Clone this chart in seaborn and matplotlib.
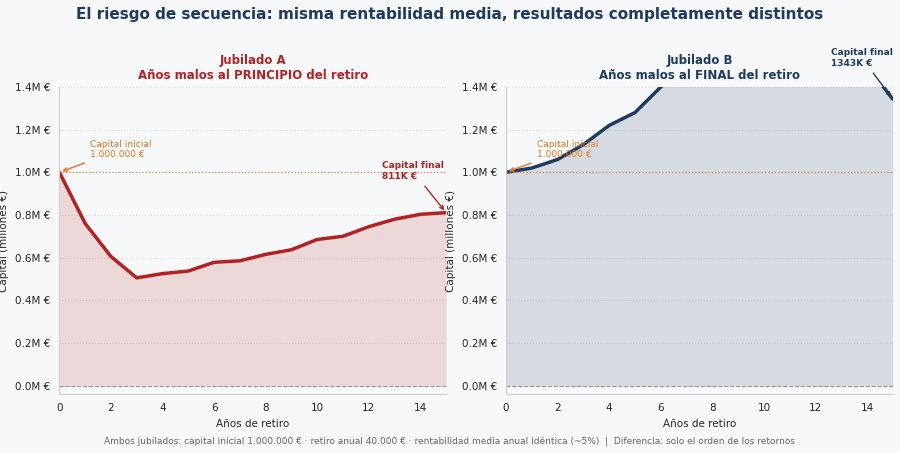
import matplotlib
matplotlib.use("Agg")
import matplotlib.pyplot as plt
import seaborn as sns
import numpy as np
import pandas as pd
from matplotlib.ticker import FuncFormatter

sns.set_style("white")
plt.rcParams['font.family'] = ['DejaVu Sans']

years = list(range(16))
cap_a = [1.0, 0.76, 0.605, 0.505, 0.525, 0.537, 0.578, 0.585, 0.615, 0.637, 0.685, 0.70, 0.745, 0.78, 0.803, 0.811]
cap_b = [1.0, 1.02, 1.06, 1.13, 1.22, 1.28, 1.40, 1.50, 1.55, 1.58, 1.60, 1.58, 1.55, 1.52, 1.50, 1.343]

RED = "#b22222"
NAVY = "#1f3a5f"
ORANGE = "#e07b24"
BG = "#f7f8fa"

fig, axes = plt.subplots(1, 2, figsize=(9, 4.53), dpi=100, facecolor=BG)
fig.subplots_adjust(left=0.066, right=0.992, top=0.808, bottom=0.13, wspace=0.155)

specs = [
    (axes[0], cap_a, RED, "Jubilado A", "Años malos al PRINCIPIO del retiro", RED, "Capital final\n811K €", (12.5, 0.97)),
    (axes[1], cap_b, NAVY, "Jubilado B", "Años malos al FINAL del retiro", NAVY, "Capital final\n1343K €", (12.6, 1.5)),
]
for ax, vals, col, t1, t2, tcol, ftxt, fpos in specs:
    ax.set_facecolor(BG)
    df = pd.DataFrame({"x": years, "y": vals})
    ax.fill_between(df.x, df.y, color=col, alpha=0.15, lw=0)
    sns.lineplot(data=df, x="x", y="y", ax=ax, color=col, lw=2.5)
    ax.axhline(1.0, color=ORANGE, ls=":", lw=0.9, alpha=0.8)
    ax.axhline(0.0, color="#999999", ls="--", lw=0.8)
    ax.set_xlim(0, 15)
    ax.set_ylim(-0.04, 1.4)
    ax.set_yticks(np.arange(0, 1.41, 0.2))
    ax.yaxis.set_major_formatter(FuncFormatter(lambda v, p: f"{v:.1f}M €"))
    ax.grid(axis="y", color="#dddddd", ls=":", lw=0.8)
    ax.set_xlabel("Años de retiro", fontsize=7.5)
    ax.set_ylabel("Capital (millones €)", fontsize=7.5)
    ax.tick_params(labelsize=7.5, length=3)
    for s in ["top", "right"]:
        ax.spines[s].set_visible(False)
    for s in ["left", "bottom"]:
        ax.spines[s].set_color("#cccccc")
    ax.set_title(f"{t1}\n{t2}", color=tcol, fontsize=8.5, fontweight="bold", pad=6)
    ax.annotate("Capital inicial\n1.000.000 €", xy=(0, 1.0), xytext=(1.2, 1.07),
                fontsize=6.5, color=ORANGE, arrowprops=dict(arrowstyle="->", color=ORANGE, lw=1))
    ax.annotate(ftxt, xy=(15, vals[-1]), xytext=fpos, fontsize=6.5, color=col,
                fontweight="bold", annotation_clip=False,
                arrowprops=dict(arrowstyle="->", color=col, lw=1))

fig.suptitle("El riesgo de secuencia: misma rentabilidad media, resultados completamente distintos",
             fontsize=11, fontweight="bold", color=NAVY, y=0.985)
fig.text(0.5, 0.02, "Ambos jubilados: capital inicial 1.000.000 € · retiro anual 40.000 € · rentabilidad media anual idéntica (~5%)  |  Diferencia: solo el orden de los retornos",
         ha="center", fontsize=6.5, color="#666666")
fig.savefig("out.png", dpi=100, facecolor=BG)
